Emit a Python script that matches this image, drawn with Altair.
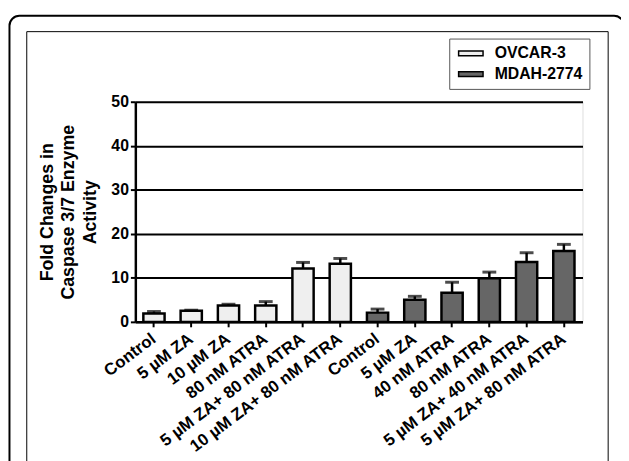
import altair as alt
import pandas as pd

# ---- data ----
groups = ["OVCAR-3", "MDAH-2774"]
group_colors = ["#efefef", "#666666"]

ovcar_labels = ["Control", "5 µM ZA", "10 µM ZA", "80 nM ATRA",
                "5 µM ZA+ 80 nM ATRA", "10 µM ZA+ 80 nM ATRA"]
ovcar_values = [1.9, 2.5, 3.7, 3.7, 12.1, 13.2]
ovcar_sem = [0.45, 0.15, 0.3, 0.9, 1.4, 1.2]

mdah_labels = ["Control", "5 µM ZA", "40 nM ATRA", "80 nM ATRA",
               "5 µM ZA+ 40 nM ATRA", "5 µM ZA+ 80 nM ATRA"]
mdah_values = [2.1, 5.0, 6.6, 9.9, 13.6, 16.1]
mdah_sem = [0.8, 0.8, 2.4, 1.4, 2.1, 1.5]

y_ticks = [0, 10, 20, 30, 40, 50]
y_title = ["Fold Changes in", "Caspase 3/7 Enzyme", "Activity"]

FONT = "Arial, Liberation Sans, sans-serif"

rows = []
for g, labs, vals, sems in [(groups[0], ovcar_labels, ovcar_values, ovcar_sem),
                            (groups[1], mdah_labels, mdah_values, mdah_sem)]:
    for l, v, s in zip(labs, vals, sems):
        rows.append({"key": f"{g}|{l}", "group": g, "label": l,
                     "value": v, "top": round(v + s, 3)})
df = pd.DataFrame(rows)
order = list(df["key"])

x_enc = alt.X(
    "key:N", sort=order,
    scale=alt.Scale(paddingInner=0.43, paddingOuter=0.215),
    axis=alt.Axis(
        title=None, labelExpr="split(datum.label, '|')[1]",
        labelAngle=323, labelAlign="right", labelBaseline="middle",
        labelFont=FONT, labelFontSize=17, labelFontWeight="bold",
        labelColor="black", labelPadding=10, labelLimit=400,
        labelOverlap=False, tickSize=5, tickWidth=2, tickColor="black",
        domainColor="black", domainWidth=2.5, grid=False,
    ),
)

y_scale = alt.Scale(domain=[0, 50], nice=False)

base = alt.Chart(df).encode(x=x_enc)

bars = base.mark_bar(stroke="black", strokeWidth=2.5).encode(
    y=alt.Y(
        "value:Q", scale=y_scale,
        axis=alt.Axis(
            values=y_ticks, grid=True, gridColor="black", gridWidth=2,
            domainColor="black", domainWidth=2.5, tickColor="black",
            tickWidth=2, tickSize=5, labelFont=FONT, labelFontSize=16,
            labelFontWeight="bold", labelColor="black", labelPadding=2,
            title=y_title, titleFont=FONT, titleFontSize=18,
            titleFontWeight="bold", titleColor="black",
            titleLineHeight=21.5, titlePadding=12,
        ),
    ),
    color=alt.Color(
        "group:N",
        scale=alt.Scale(domain=groups, range=group_colors),
        legend=alt.Legend(
            title=None, orient="none", legendX=318, legendY=-64,
            strokeColor="#555555", padding=7,
            symbolType="M-1,-0.45H3.5V0.45H-1Z", symbolSize=121,
            symbolStrokeColor="black", symbolStrokeWidth=1.5,
            symbolOpacity=1, labelFont=FONT, labelFontSize=16,
            labelFontWeight="bold", labelColor="black", labelOffset=23,
            rowPadding=5,
        ),
    ),
)

stems = base.mark_rule(color="black", strokeWidth=2.5).encode(
    y=alt.Y("value:Q", scale=y_scale), y2="top:Q"
)
caps = base.mark_tick(color="black", thickness=3, size=14).encode(
    y=alt.Y("top:Q", scale=y_scale)
)

frame_df = pd.DataFrame({"f": [0]})
outer = alt.Chart(frame_df).mark_rect(
    fill=None, fillOpacity=0, stroke="black", strokeWidth=2, cornerRadius=10
).encode(x=alt.value(-127.5), x2=alt.value(495), y=alt.value(-87), y2=alt.value(400))
inner = alt.Chart(frame_df).mark_rect(
    fill=None, fillOpacity=0, stroke="black", strokeWidth=1
).encode(x=alt.value(-110), x2=alt.value(479), y=alt.value(-71), y2=alt.value(400))

chart = alt.layer(outer, inner, bars, stems, caps).properties(
    width=453, height=223,
    autosize=alt.AutoSizeParams(type="none"),
    padding={"left": 129, "top": 92, "right": 39, "bottom": 138},
).configure_view(stroke="black", strokeWidth=2).configure(background="white")

chart.save("out.html", embed_options={"renderer": "svg", "actions": False})
